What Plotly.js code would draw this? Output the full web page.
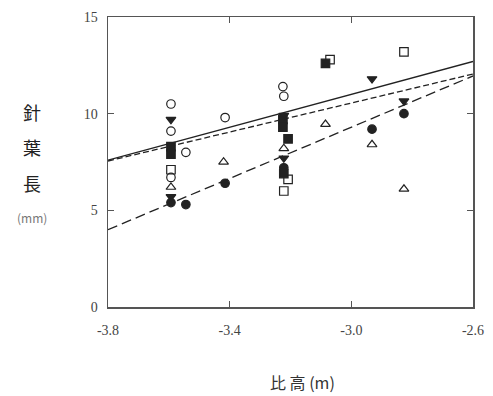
<!DOCTYPE html>
<html>
<head>
<meta charset="utf-8">
<script src="https://cdn.plot.ly/plotly-3.0.1.min.js"></script>
<style>html,body{margin:0;padding:0;background:#fff;}#chart{width:493px;height:396px;}</style>
</head>
<body>
<div id="chart"></div>
<script>
// Data (x: 比高 m, y: 針葉長 mm)
const openCircleX = [-3.593, -3.593, -3.544, -3.593, -3.415, -3.225, -3.222];
const openCircleY = [10.5, 9.1, 8.0, 6.7, 9.8, 11.4, 10.9];
const filledCircleX = [-3.544, -3.415, -3.222, -2.932, -2.827, -3.593];
const filledCircleY = [5.3, 6.4, 7.2, 9.2, 10.0, 5.4];
const openSquareX = [-3.593, -3.208, -3.222, -3.07, -2.827];
const openSquareY = [7.1, 6.6, 6.0, 12.8, 13.2];
const filledSquareX = [-3.593, -3.593, -3.225, -3.225, -3.208, -3.085, -3.222];
const filledSquareY = [8.3, 7.9, 9.7, 9.3, 8.7, 12.6, 6.9];
const openTriX = [-3.593, -3.42, -3.222, -3.085, -2.932, -2.827];
const openTriY = [6.2, 7.5, 8.2, 9.45, 8.4, 6.1];
const filledTriX = [-3.593, -3.593, -3.222, -2.932, -2.827, -3.222];
const filledTriY = [9.7, 5.7, 7.7, 11.8, 10.65, 9.9];
// Regression lines (end points read at axis limits)
const lineX = [-3.8, -2.6];
const solidY = [7.6, 12.7];
const dotY = [7.55, 12.05];
const dashY = [4.0, 11.95];

const xTicks = [-3.8, -3.4, -3.0, -2.6];
const xTickText = ['-3.8', '-3.4', '-3.0', '-2.6'];
const yTicks = [0, 5, 10, 15];

const ink = '#222';
const mk = (x, y, sym) => ({
  x, y, type: 'scatter', mode: 'markers', showlegend: false, cliponaxis: false,
  marker: {symbol: sym, size: 8.5, color: ink, line: {color: ink, width: 1.2}}
});
const ln = (y, dash) => ({
  x: lineX, y, type: 'scatter', mode: 'lines', showlegend: false,
  line: {color: ink, width: 1.3, dash}
});

const data = [
  ln(solidY, 'solid'), ln(dotY, '6px,3px'), ln(dashY, '10px,5px'),
  mk(openCircleX, openCircleY, 'circle-open'),
  mk(filledCircleX, filledCircleY, 'circle'),
  mk(openSquareX, openSquareY, 'square-open'),
  mk(filledSquareX, filledSquareY, 'square'),
  mk(openTriX, openTriY, 'triangle-up-open'),
  mk(filledTriX, filledTriY, 'triangle-down')
];

const tickFont = {family: 'Liberation Serif, serif', size: 14, color: '#444'};
const layout = {
  width: 493, height: 396,
  margin: {l: 108, r: 20, t: 17, b: 89},
  paper_bgcolor: '#fff', plot_bgcolor: '#fff',
  xaxis: {
    range: [-3.8, -2.6], tickvals: xTicks, ticktext: xTickText,
    showline: true, mirror: 'ticks', linecolor: '#555', linewidth: 1.5,
    ticks: 'inside', ticklen: 6, tickcolor: '#555', tickwidth: 1,
    showgrid: false, zeroline: false, tickfont: tickFont, ticklabelstandoff: 10
  },
  yaxis: {
    range: [0, 15], tickvals: yTicks,
    showline: true, mirror: 'ticks', linecolor: '#555', linewidth: 1.5,
    ticks: 'inside', ticklen: 6, tickcolor: '#555', tickwidth: 1,
    showgrid: false, zeroline: false, tickfont: tickFont, ticklabelstandoff: 6
  },
  annotations: [
    {text: '針', x: -0.208, y: 0.672},
    {text: '葉', x: -0.208, y: 0.552},
    {text: '長', x: -0.208, y: 0.428},
    {text: '(mm)', x: -0.208, y: 0.307, font: {family: 'Noto Sans CJK JP', size: 12, color: '#777'}},
    {text: '比 高 (m)', x: 0.534, y: -0.26, font: {family: 'Noto Sans CJK JP', size: 16, color: '#333'}}
  ].map(a => Object.assign({
    xref: 'paper', yref: 'paper', showarrow: false, xanchor: 'center', yanchor: 'middle',
    font: {family: 'Noto Sans CJK JP', size: 18, color: '#222'}
  }, a))
};

Plotly.newPlot('chart', data, layout, {displayModeBar: false, staticPlot: true});
</script>
</body>
</html>
